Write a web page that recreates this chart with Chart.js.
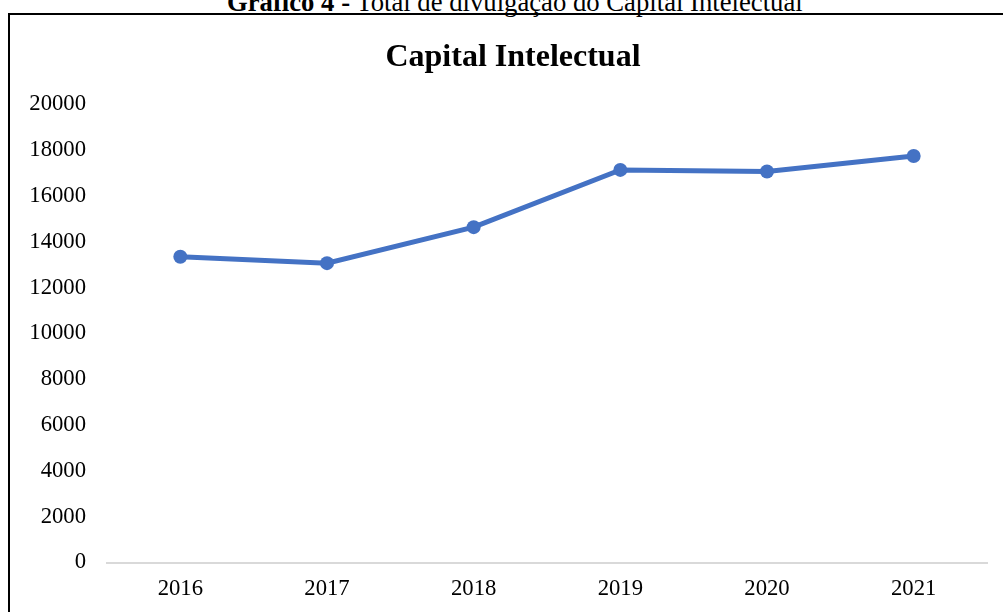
<!DOCTYPE html>
<html lang="pt">
<head>
<meta charset="utf-8">
<title>Capital Intelectual</title>
<script src="https://cdn.jsdelivr.net/npm/chart.js@4/dist/chart.umd.min.js"></script>
<style>
  html, body { margin: 0; padding: 0; background: #fff; overflow: hidden; }
  body { width: 1003px; height: 612px; position: relative; font-family: "Liberation Serif", "Times New Roman", serif; }
  #cabecalho {
    position: absolute; left: 227px; top: -11.5px;
    font-size: 26.7px; line-height: 27px; white-space: nowrap; color: #000;
  }
  #moldura {
    position: absolute; left: 8px; top: 13px; width: 1010px; height: 700px;
    border: 2px solid #000; pointer-events: none;
  }
  #grafico { position: absolute; left: 0; top: 0; }
</style>
</head>
<body>
<div id="cabecalho"><b>Gráfico 4 -</b> Total de divulgação do Capital Intelectual</div>
<canvas id="grafico" width="1003" height="612"></canvas>
<div id="moldura"></div>
<script>
// dados do gráfico
const anos = ['2016', '2017', '2018', '2019', '2020', '2021'];
const totalCapital = [13350, 13070, 14640, 17140, 17070, 17750];
const titulo = 'Capital Intelectual';

const fonte = '"Liberation Serif", "Times New Roman", serif';
const azul = '#4472C4';

// o título fica centrado na moldura, não na largura toda do canvas
const centrarTitulo = {
    id: 'centrarTitulo',
    afterLayout: function(chart) {
        if (chart.titleBlock) chart.titleBlock.left = 39;
    }
};

new Chart(document.getElementById('grafico'), {
    type: 'line',
    data: {
        labels: anos,
        datasets: [{
            label: titulo,
            data: totalCapital,
            borderColor: azul,
            backgroundColor: azul,
            borderWidth: 5,
            pointRadius: 7,
            pointHoverRadius: 7,
            pointBackgroundColor: azul,
            pointBorderWidth: 0,
            tension: 0,
            fill: false
        }]
    },
    plugins: [centrarTitulo],
    options: {
        responsive: false,
        animation: false,
        devicePixelRatio: 1,
        layout: { padding: { top: 20, right: 16, bottom: 0, left: 0 } },
        plugins: {
            legend: { display: false },
            tooltip: { enabled: false },
            title: {
                display: true,
                text: titulo,
                color: '#000',
                font: { family: fonte, size: 32, weight: 'bold' },
                padding: { top: 19, bottom: 27 }
            }
        },
        scales: {
            x: {
                offset: true,
                grid: { display: false, drawTicks: false, offset: true },
                border: { display: true, color: '#d9d9d9', width: 2 },
                ticks: { color: '#000', font: { family: fonte, size: 22.7 }, padding: 13, maxRotation: 0 },
                afterFit: function(s) { s.height = 49.5; }
            },
            y: {
                min: 0,
                max: 20000,
                grid: { display: false, drawTicks: false },
                border: { display: false },
                ticks: {
                    stepSize: 2000,
                    color: '#000',
                    font: { family: fonte, size: 22.7 },
                    padding: 21,
                    callback: function(v) { return String(v); }
                },
                afterFit: function(s) { s.width = 107; }
            }
        }
    }
});
</script>
</body>
</html>
